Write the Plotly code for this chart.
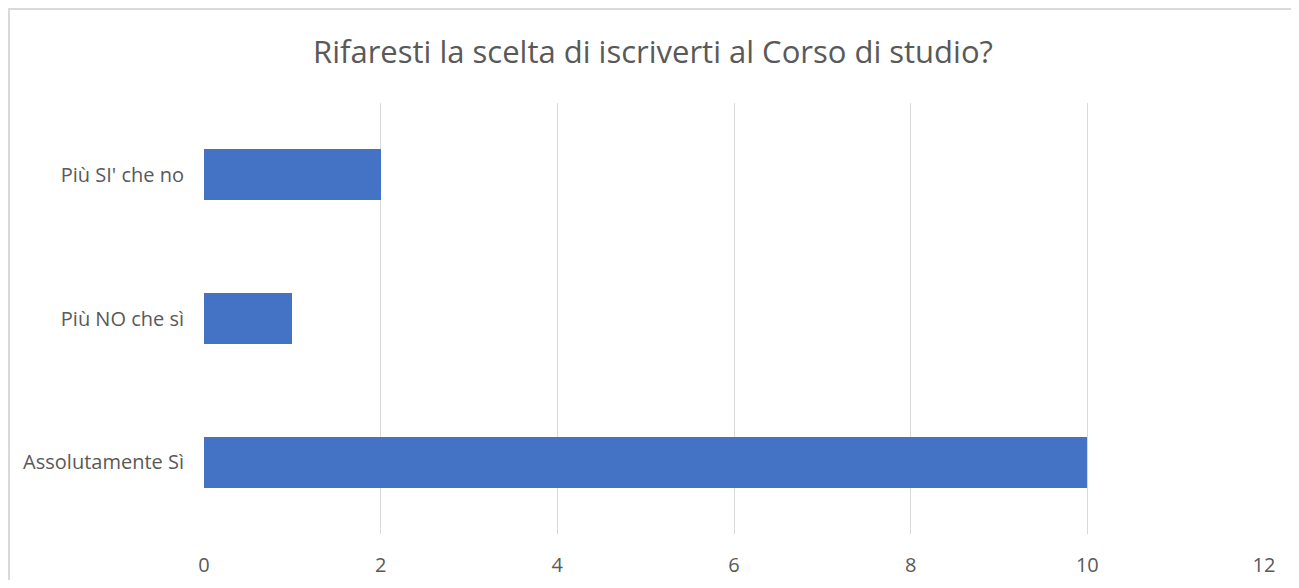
import plotly.graph_objects as go

categories = ["Assolutamente Sì", "Più NO che sì", "Più SI' che no"]
values = [10, 1, 2]
x_ticks = [0, 2, 4, 6, 8, 10, 12]
title_text = "Rifaresti la scelta di iscriverti al Corso di studio?"

# the page has an 8px body margin, so the figure is drawn from (8, 8)
OFF = 8
W, H = 1299 - 2 * OFF, 588 - 2 * OFF
L, T = 204 - OFF, 103 - OFF
R = W - (1264 - OFF)
B = H - (534 - OFF)
pw = W - L - R
ph = H - T - B

fig = go.Figure(go.Bar(
    y=categories, x=values, orientation="h",
    marker=dict(color="#4472C4", line=dict(width=0)),
    width=0.355,
))

fig.update_layout(
    width=W, height=H, autosize=False,
    margin=dict(l=L, r=R, t=T, b=B, autoexpand=False),
    paper_bgcolor="white", plot_bgcolor="white",
    font=dict(family="Open Sans, Lato, sans-serif", color="#595959", size=20),
    title=dict(text=title_text, x=(653 - OFF) / W, xanchor="center",
               y=1 - (52 - OFF) / H, yanchor="middle",
               font=dict(size=31, color="#595959", family="Open Sans, sans-serif")),
    showlegend=False,
    bargap=0,
)
fig.update_xaxes(
    range=[0, 12], tickvals=x_ticks, showgrid=True, gridcolor="#d9d9d9", gridwidth=1.3,
    zeroline=False, showline=False, ticks="outside", ticklen=13, tickcolor="rgba(0,0,0,0)",
    tickfont=dict(size=20, color="#595959"), fixedrange=True, automargin=False,
)
fig.update_yaxes(
    showgrid=False, zeroline=False, showline=False, ticks="outside", ticklen=15,
    tickcolor="rgba(0,0,0,0)", tickfont=dict(size=20, color="#595959"),
    range=[-0.5, 2.5], automargin=False,
)
# light outer chart border (only left and top edges fall inside the page)
fig.add_shape(type="rect", xref="paper", yref="paper",
              x0=(1 - L) / pw, x1=1.3,
              y0=-0.6, y1=(T + ph - 1) / ph,
              line=dict(color="#d9d9d9", width=2), fillcolor="rgba(0,0,0,0)", layer="below")
fig.write_html("out.html")
